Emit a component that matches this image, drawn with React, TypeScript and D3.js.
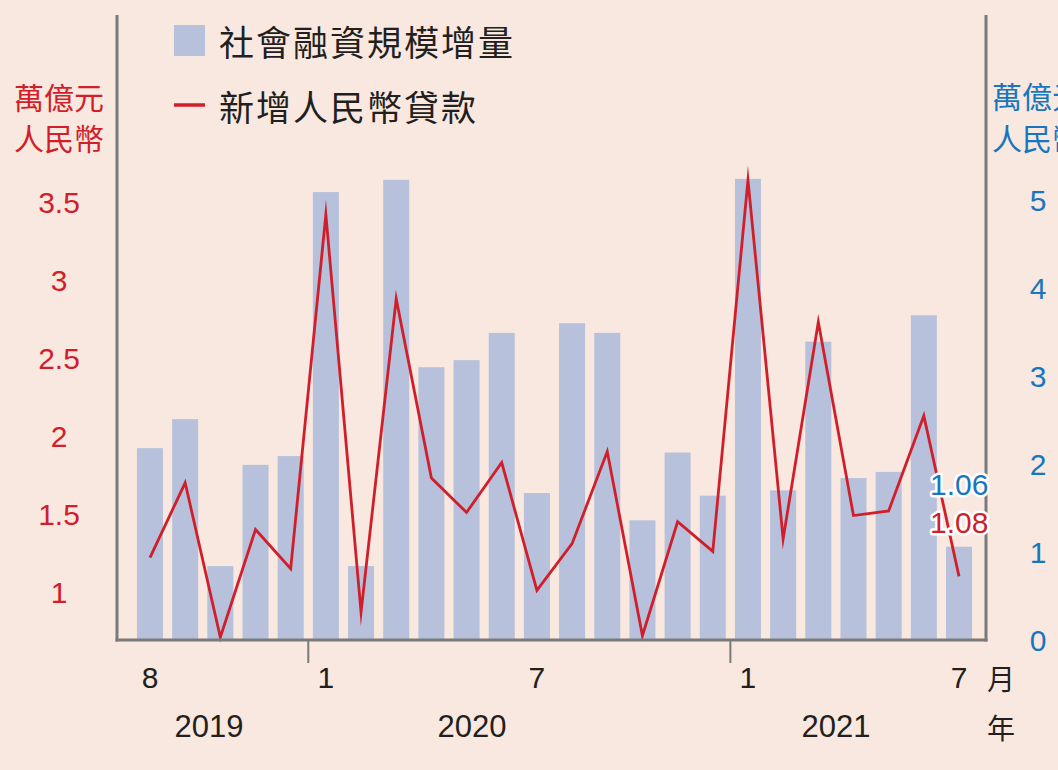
import React from "react";
import * as d3 from "d3";

const W = 1058;
const H = 770;

const months = [
  "2019-08", "2019-09", "2019-10", "2019-11", "2019-12",
  "2020-01", "2020-02", "2020-03", "2020-04", "2020-05", "2020-06",
  "2020-07", "2020-08", "2020-09", "2020-10", "2020-11", "2020-12",
  "2021-01", "2021-02", "2021-03", "2021-04", "2021-05", "2021-06", "2021-07",
];

// 社會融資規模增量 (right axis, 萬億元)
const socialFinancing = [
  2.18, 2.51, 0.84, 1.99, 2.09,
  5.09, 0.84, 5.23, 3.10, 3.18, 3.49,
  1.67, 3.60, 3.49, 1.36, 2.13, 1.64,
  5.24, 1.70, 3.39, 1.84, 1.91, 3.69, 1.06,
];

// 新增人民幣貸款 (left axis, 萬億元)
const newLoans = [
  1.22, 1.70, 0.71, 1.40, 1.15,
  3.42, 0.87, 2.88, 1.73, 1.51, 1.83,
  1.01, 1.31, 1.90, 0.72, 1.45, 1.26,
  3.64, 1.34, 2.73, 1.49, 1.52, 2.13, 1.10,
];

const lastValueLabels = ["1.06", "1.08"];
const leftTicks = [1, 1.5, 2, 2.5, 3, 3.5];
const rightTicks = [0, 1, 2, 3, 4, 5];
const monthLabels = [
  { m: "2019-08", t: "8" },
  { m: "2020-01", t: "1" },
  { m: "2020-07", t: "7" },
  { m: "2021-01", t: "1" },
  { m: "2021-07", t: "7" },
];
const yearLabels = [
  { t: "2019", x: 209 },
  { t: "2020", x: 472 },
  { t: "2021", x: 836 },
];
const yearBoundaries = ["2020-01", "2021-01"];

const BG = "#f8e8df";
const BAR = "#b7c1db";
const RED = "#d01f2a";
const BLUE = "#1776bf";
const AXIS = "#7a7a7a";
const TEXT = "#231f20";
const NUM_FONT = "'Liberation Sans', Arial, Helvetica, sans-serif";
const CJK_FONT = "'Noto Sans CJK TC', 'Noto Sans CJK SC', sans-serif";

export default function App() {
  const x = d3
    .scaleBand<string>()
    .domain(months)
    .range([132.4, 976.6])
    .paddingInner(0.26)
    .paddingOuter(0.13);
  const yL = d3.scaleLinear().domain([1, 3.5]).range([592, 202]);
  const yR = d3.scaleLinear().domain([0, 5]).range([640, 200]);
  const cx = (m: string) => (x(m) as number) + x.bandwidth() / 2;

  const line = d3
    .line<number>()
    .x((_, i) => cx(months[i]))
    .y((d) => yL(d));

  const axisLeftX = 117;
  const axisRightX = 986;
  const axisBottomY = 640;
  const axisTopY = 15;

  return (
    <svg
      width={W}
      height={H}
      style={{ position: "absolute", left: 0, top: 0, display: "block" }}
    >
      <rect x={0} y={0} width={W} height={H} fill={BG} />

      {/* bars */}
      {socialFinancing.map((v, i) => (
        <rect
          key={months[i]}
          x={x(months[i])}
          y={yR(v)}
          width={x.bandwidth()}
          height={yR(0) - yR(v)}
          fill={BAR}
        />
      ))}

      {/* line */}
      <path
        d={line(newLoans) || ""}
        fill="none"
        stroke={RED}
        strokeWidth={2.8}
        strokeLinejoin="miter"
        strokeMiterlimit={20}
      />

      {/* axes */}
      <line x1={axisLeftX} y1={axisTopY} x2={axisLeftX} y2={axisBottomY + 1.5} stroke={AXIS} strokeWidth={3} />
      <line x1={axisRightX} y1={axisTopY} x2={axisRightX} y2={axisBottomY + 1.5} stroke={AXIS} strokeWidth={3} />
      <line x1={axisLeftX - 1.5} y1={axisBottomY} x2={axisRightX + 1.5} y2={axisBottomY} stroke={AXIS} strokeWidth={3} />
      {yearBoundaries.map((m) => {
        const bx = (x(m) as number) - (x.step() - x.bandwidth()) / 2;
        return <line key={m} x1={bx} y1={axisBottomY} x2={bx} y2={663} stroke={AXIS} strokeWidth={2} />;
      })}

      {/* left ticks */}
      {leftTicks.map((t) => (
        <text key={t} x={59} y={yL(t)} dy="0.36em" textAnchor="middle" fill={RED} fontFamily={NUM_FONT} fontSize={30}>
          {t}
        </text>
      ))}
      {/* right ticks */}
      {rightTicks.map((t) => (
        <text key={t} x={1038} y={yR(t)} dy="0.36em" textAnchor="middle" fill={BLUE} fontFamily={NUM_FONT} fontSize={30}>
          {t}
        </text>
      ))}

      {/* unit labels */}
      <text x={59} y={96} dominantBaseline="central" textAnchor="middle" fill={RED} fontFamily={CJK_FONT} fontSize={30}>萬億元</text>
      <text x={59} y={137} dominantBaseline="central" textAnchor="middle" fill={RED} fontFamily={CJK_FONT} fontSize={30}>人民幣</text>
      <text x={992} y={95} dominantBaseline="central" textAnchor="start" fill={BLUE} fontFamily={CJK_FONT} fontSize={30}>萬億元</text>
      <text x={992} y={137} dominantBaseline="central" textAnchor="start" fill={BLUE} fontFamily={CJK_FONT} fontSize={30}>人民幣</text>

      {/* month labels */}
      {monthLabels.map((d) => (
        <text key={d.m} x={cx(d.m)} y={688} textAnchor="middle" fill={TEXT} fontFamily={NUM_FONT} fontSize={30}>
          {d.t}
        </text>
      ))}
      {yearLabels.map((d) => (
        <text key={d.t} x={d.x} y={737} textAnchor="middle" fill={TEXT} fontFamily={NUM_FONT} fontSize={31}>
          {d.t}
        </text>
      ))}
      <text x={1001} y={678} dominantBaseline="central" textAnchor="middle" fill={TEXT} fontFamily={CJK_FONT} fontSize={28}>月</text>
      <text x={1001} y={727} dominantBaseline="central" textAnchor="middle" fill={TEXT} fontFamily={CJK_FONT} fontSize={28}>年</text>

      {/* legend */}
      <rect x={174} y={25} width={31} height={31} fill={BAR} />
      <text x={219} y={40} dominantBaseline="central" fill={TEXT} fontFamily={CJK_FONT} fontSize={35} letterSpacing={2}>社會融資規模增量</text>
      <line x1={174} y1={105} x2={205} y2={105} stroke={RED} strokeWidth={3.5} />
      <text x={219} y={105} dominantBaseline="central" fill={TEXT} fontFamily={CJK_FONT} fontSize={35} letterSpacing={2}>新增人民幣貸款</text>

      {/* data labels */}
      <text
        x={930}
        y={484}
        dy="0.36em"
        fill={BLUE}
        stroke="#ffffff"
        strokeWidth={5}
        strokeLinejoin="round"
        paintOrder="stroke"
        fontFamily={NUM_FONT}
        fontSize={30}
      >
        {lastValueLabels[0]}
      </text>
      <text
        x={930}
        y={522}
        dy="0.36em"
        fill={RED}
        stroke="#ffffff"
        strokeWidth={5}
        strokeLinejoin="round"
        paintOrder="stroke"
        fontFamily={NUM_FONT}
        fontSize={30}
      >
        {lastValueLabels[1]}
      </text>
    </svg>
  );
}
